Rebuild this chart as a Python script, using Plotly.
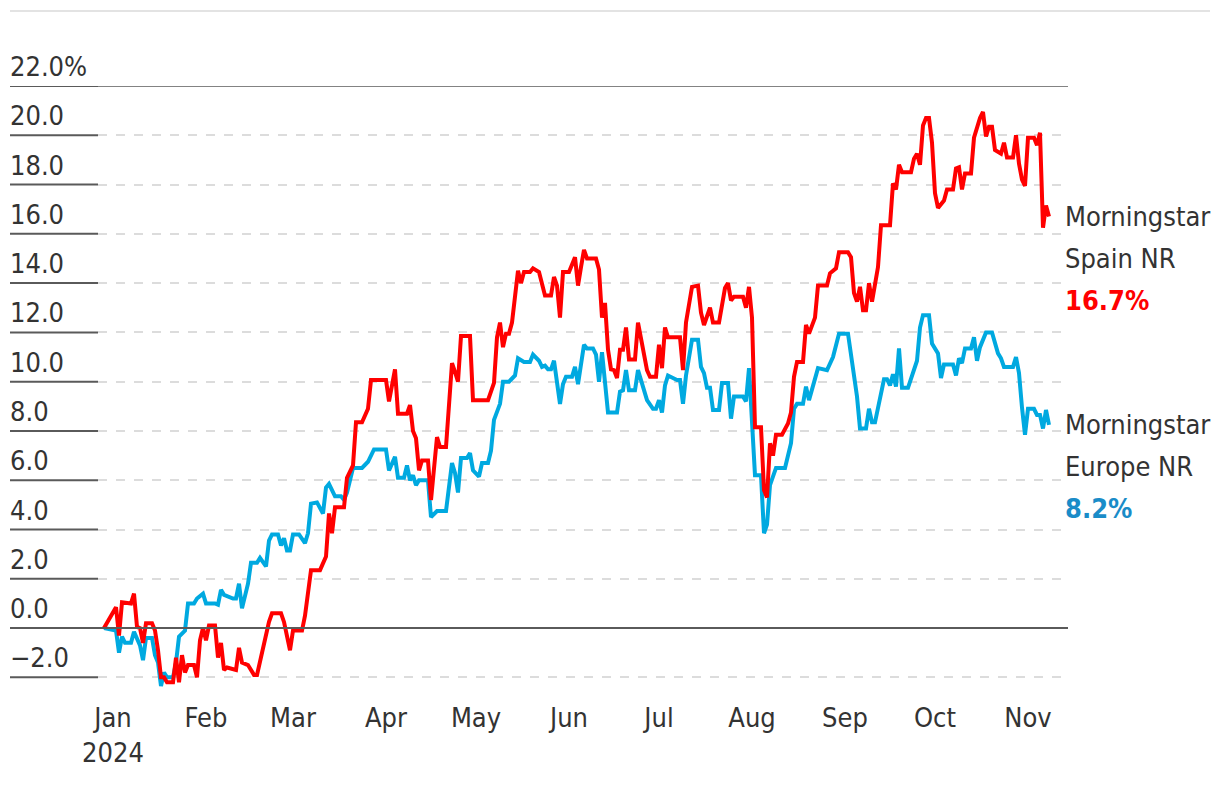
import plotly.graph_objects as go

FONT = "DejaVu Sans Condensed, Liberation Sans Narrow, Roboto, sans-serif"
TEXT = "#333333"
RED = "#ff0000"
BLUE = "#00a9e0"

spain_dates = [
    "2023-12-29", "2024-01-02", "2024-01-03", "2024-01-04", "2024-01-07", "2024-01-08", "2024-01-09", "2024-01-10",
    "2024-01-11", "2024-01-12", "2024-01-14", "2024-01-15", "2024-01-16", "2024-01-17", "2024-01-18", "2024-01-19",
    "2024-01-21", "2024-01-22", "2024-01-23", "2024-01-24", "2024-01-25", "2024-01-26", "2024-01-28", "2024-01-29",
    "2024-01-30", "2024-01-31", "2024-02-01", "2024-02-02", "2024-02-04", "2024-02-05", "2024-02-06", "2024-02-07",
    "2024-02-08", "2024-02-11", "2024-02-12", "2024-02-13", "2024-02-15", "2024-02-17", "2024-02-18", "2024-02-20",
    "2024-02-22", "2024-02-23", "2024-02-26", "2024-02-27", "2024-02-29", "2024-03-01", "2024-03-04", "2024-03-05",
    "2024-03-07", "2024-03-10", "2024-03-12", "2024-03-13", "2024-03-14", "2024-03-15", "2024-03-18", "2024-03-19",
    "2024-03-21", "2024-03-22", "2024-03-24", "2024-03-26", "2024-03-27", "2024-04-01", "2024-04-02", "2024-04-04",
    "2024-04-05", "2024-04-08", "2024-04-09", "2024-04-10", "2024-04-11", "2024-04-12", "2024-04-13", "2024-04-15",
    "2024-04-16", "2024-04-18", "2024-04-19", "2024-04-21", "2024-04-23", "2024-04-24", "2024-04-25", "2024-04-26",
    "2024-04-29", "2024-04-30", "2024-05-05", "2024-05-07", "2024-05-08", "2024-05-09", "2024-05-10", "2024-05-11",
    "2024-05-12", "2024-05-13", "2024-05-15", "2024-05-16", "2024-05-17", "2024-05-19", "2024-05-20", "2024-05-22",
    "2024-05-23", "2024-05-24", "2024-05-26", "2024-05-27", "2024-05-28", "2024-05-29", "2024-05-30", "2024-06-01",
    "2024-06-03", "2024-06-04", "2024-06-05", "2024-06-06", "2024-06-07", "2024-06-10", "2024-06-11", "2024-06-12",
    "2024-06-13", "2024-06-14", "2024-06-15", "2024-06-16", "2024-06-17", "2024-06-18", "2024-06-19", "2024-06-20",
    "2024-06-21", "2024-06-23", "2024-06-24", "2024-06-25", "2024-06-27", "2024-06-28", "2024-06-30", "2024-07-01",
    "2024-07-02", "2024-07-03", "2024-07-04", "2024-07-08", "2024-07-09", "2024-07-10", "2024-07-12", "2024-07-14",
    "2024-07-15", "2024-07-16", "2024-07-18", "2024-07-19", "2024-07-21", "2024-07-23", "2024-07-24", "2024-07-25",
    "2024-07-26", "2024-07-29", "2024-07-30", "2024-07-31", "2024-08-01", "2024-08-02", "2024-08-04", "2024-08-05",
    "2024-08-06", "2024-08-07", "2024-08-08", "2024-08-09", "2024-08-11", "2024-08-13", "2024-08-14", "2024-08-15",
    "2024-08-16", "2024-08-18", "2024-08-19", "2024-08-20", "2024-08-22", "2024-08-23", "2024-08-26", "2024-08-27",
    "2024-08-29", "2024-08-30", "2024-09-02", "2024-09-03", "2024-09-04", "2024-09-05", "2024-09-06", "2024-09-07",
    "2024-09-08", "2024-09-09", "2024-09-10", "2024-09-12", "2024-09-13", "2024-09-16", "2024-09-17", "2024-09-18",
    "2024-09-19", "2024-09-20", "2024-09-23", "2024-09-24", "2024-09-25", "2024-09-26", "2024-09-27", "2024-09-28",
    "2024-09-29", "2024-09-30", "2024-10-01", "2024-10-02", "2024-10-04", "2024-10-05", "2024-10-07", "2024-10-08",
    "2024-10-09", "2024-10-10", "2024-10-11", "2024-10-13", "2024-10-14", "2024-10-16", "2024-10-17", "2024-10-18",
    "2024-10-19", "2024-10-20", "2024-10-21", "2024-10-23", "2024-10-24", "2024-10-25", "2024-10-27", "2024-10-28",
    "2024-10-29", "2024-10-30", "2024-10-31", "2024-11-01", "2024-11-03", "2024-11-04", "2024-11-05", "2024-11-06",
    "2024-11-07", "2024-11-08",
]
spain_values = [
    0.0, 0.85, -0.3, 1.05, 1.0, 1.4, 0.05, 0.0,
    -0.6, 0.2, 0.2, -0.1, -0.9, -2.0, -2.0, -2.2,
    -2.2, -1.2, -2.2, -1.1, -1.8, -1.5, -1.5, -2.0,
    -0.5, 0.0, -0.5, 0.1, 0.1, -1.2, -0.6, -1.7,
    -1.6, -1.7, -0.8, -1.4, -1.5, -1.9, -1.9, -0.8,
    0.25, 0.6, 0.6, 0.25, -0.9, -0.1, -0.1, 0.5,
    2.35, 2.35, 2.9, 4.65, 3.85, 4.9, 4.9, 6.1,
    6.6, 8.35, 8.35, 8.9, 10.07, 10.07, 9.2, 10.5,
    8.7, 8.7, 9.05, 8.0, 7.7, 6.4, 6.8, 6.8,
    5.2, 7.75, 7.35, 7.35, 10.75, 10.4, 10.0, 11.85,
    11.85, 9.25, 9.25, 9.95, 11.8, 12.4, 11.4, 11.95,
    11.95, 12.4, 14.5, 14.0, 14.45, 14.45, 14.6, 14.45,
    14.0, 13.5, 13.5, 14.25, 13.9, 12.6, 14.45, 14.45,
    15.05, 13.9, 14.65, 15.35, 15.0, 15.0, 14.55, 12.6,
    13.2, 11.3, 10.5, 10.47, 10.15, 11.3, 11.3, 12.2,
    10.9, 10.9, 12.4, 11.8, 10.47, 10.2, 10.2, 11.5,
    10.55, 12.2, 11.8, 11.8, 10.47, 12.4, 13.85, 13.9,
    12.8, 12.3, 13.0, 12.4, 12.4, 13.8, 14.0, 13.3,
    13.45, 13.45, 13.0, 13.85, 12.6, 8.15, 8.15, 5.6,
    5.3, 7.5, 7.0, 7.85, 7.85, 8.3, 8.75, 10.2,
    10.8, 10.8, 12.3, 11.95, 12.6, 13.9, 13.9, 14.4,
    14.6, 15.25, 15.25, 15.05, 13.6, 13.25, 13.85, 12.9,
    12.9, 14.0, 13.25, 14.65, 16.35, 16.35, 18.05, 17.8,
    18.8, 18.5, 18.5, 19.05, 19.25, 18.8, 20.4, 20.7,
    20.7, 19.7, 17.65, 17.05, 17.35, 17.8, 17.8, 18.65,
    18.7, 17.8, 18.45, 18.45, 19.9, 20.7, 20.95, 19.95,
    20.35, 20.35, 19.4, 19.25, 19.7, 19.1, 19.1, 20.0,
    18.85, 18.2, 17.95, 19.9, 19.9, 19.6, 20.1, 16.25,
    17.15, 16.7,
]

europe_dates = [
    "2023-12-29", "2024-01-02", "2024-01-03", "2024-01-04", "2024-01-05", "2024-01-07", "2024-01-08", "2024-01-09",
    "2024-01-10", "2024-01-11", "2024-01-12", "2024-01-14", "2024-01-15", "2024-01-16", "2024-01-17", "2024-01-18",
    "2024-01-19", "2024-01-21", "2024-01-22", "2024-01-23", "2024-01-25", "2024-01-26", "2024-01-28", "2024-01-29",
    "2024-01-31", "2024-02-01", "2024-02-04", "2024-02-05", "2024-02-06", "2024-02-07", "2024-02-10", "2024-02-11",
    "2024-02-12", "2024-02-13", "2024-02-15", "2024-02-16", "2024-02-18", "2024-02-19", "2024-02-21", "2024-02-22",
    "2024-02-23", "2024-02-25", "2024-02-26", "2024-02-27", "2024-02-28", "2024-02-29", "2024-03-01", "2024-03-03",
    "2024-03-05", "2024-03-06", "2024-03-07", "2024-03-09", "2024-03-11", "2024-03-12", "2024-03-13", "2024-03-14",
    "2024-03-15", "2024-03-17", "2024-03-18", "2024-03-19", "2024-03-21", "2024-03-24", "2024-03-26", "2024-03-28",
    "2024-04-01", "2024-04-02", "2024-04-04", "2024-04-05", "2024-04-07", "2024-04-08", "2024-04-09", "2024-04-10",
    "2024-04-11", "2024-04-12", "2024-04-15", "2024-04-16", "2024-04-18", "2024-04-21", "2024-04-23", "2024-04-24",
    "2024-04-25", "2024-04-26", "2024-04-28", "2024-04-29", "2024-04-30", "2024-05-02", "2024-05-03", "2024-05-05",
    "2024-05-06", "2024-05-07", "2024-05-09", "2024-05-10", "2024-05-12", "2024-05-14", "2024-05-15", "2024-05-17",
    "2024-05-19", "2024-05-20", "2024-05-22", "2024-05-23", "2024-05-24", "2024-05-25", "2024-05-26", "2024-05-27",
    "2024-05-29", "2024-05-30", "2024-05-31", "2024-06-02", "2024-06-03", "2024-06-04", "2024-06-06", "2024-06-07",
    "2024-06-09", "2024-06-10", "2024-06-11", "2024-06-12", "2024-06-13", "2024-06-14", "2024-06-17", "2024-06-18",
    "2024-06-19", "2024-06-20", "2024-06-21", "2024-06-23", "2024-06-24", "2024-06-25", "2024-06-27", "2024-06-29",
    "2024-06-30", "2024-07-01", "2024-07-02", "2024-07-03", "2024-07-04", "2024-07-07", "2024-07-08", "2024-07-09",
    "2024-07-10", "2024-07-12", "2024-07-14", "2024-07-15", "2024-07-16", "2024-07-17", "2024-07-18", "2024-07-19",
    "2024-07-21", "2024-07-22", "2024-07-24", "2024-07-25", "2024-07-26", "2024-07-29", "2024-07-30", "2024-07-31",
    "2024-08-02", "2024-08-04", "2024-08-05", "2024-08-06", "2024-08-07", "2024-08-09", "2024-08-12", "2024-08-14",
    "2024-08-15", "2024-08-16", "2024-08-18", "2024-08-19", "2024-08-20", "2024-08-23", "2024-08-26", "2024-08-28",
    "2024-08-30", "2024-09-02", "2024-09-04", "2024-09-05", "2024-09-06", "2024-09-08", "2024-09-09", "2024-09-10",
    "2024-09-11", "2024-09-14", "2024-09-15", "2024-09-16", "2024-09-17", "2024-09-18", "2024-09-19", "2024-09-20",
    "2024-09-22", "2024-09-24", "2024-09-25", "2024-09-26", "2024-09-27", "2024-09-29", "2024-09-30", "2024-10-02",
    "2024-10-03", "2024-10-04", "2024-10-07", "2024-10-08", "2024-10-09", "2024-10-10", "2024-10-11", "2024-10-13",
    "2024-10-14", "2024-10-15", "2024-10-16", "2024-10-18", "2024-10-20", "2024-10-22", "2024-10-23", "2024-10-24",
    "2024-10-27", "2024-10-28", "2024-10-29", "2024-10-30", "2024-10-31", "2024-11-01", "2024-11-03", "2024-11-04",
    "2024-11-05", "2024-11-06", "2024-11-07", "2024-11-08",
]
europe_values = [
    0.0, -0.1, -1.0, -0.35, -0.6, -0.6, -0.15, -0.4,
    -0.7, -1.3, -0.4, -0.4, -1.1, -1.4, -2.35, -1.8,
    -2.0, -2.0, -1.4, -0.35, -0.1, 1.0, 1.0, 1.2,
    1.4, 1.0, 1.0, 0.95, 1.55, 1.35, 1.2, 1.2,
    1.8, 0.8, 1.8, 2.65, 2.65, 2.85, 2.5, 3.55,
    3.8, 3.8, 3.35, 3.65, 3.15, 3.15, 3.8, 3.8,
    3.45, 3.85, 5.05, 5.1, 4.65, 5.7, 5.85, 5.6,
    5.35, 5.35, 5.2, 5.5, 6.5, 6.5, 6.75, 7.25,
    7.25, 6.4, 6.95, 6.1, 6.1, 6.6, 6.0, 6.2,
    5.8, 6.0, 6.0, 4.5, 4.75, 4.75, 6.7, 6.3,
    5.5, 6.9, 6.9, 7.1, 6.4, 6.15, 6.7, 6.7,
    7.2, 8.45, 9.1, 10.0, 10.0, 10.25, 10.95, 10.8,
    10.8, 11.1, 10.85, 10.6, 10.65, 10.5, 10.5, 10.85,
    9.1, 9.9, 10.2, 10.2, 10.6, 9.9, 11.5, 11.35,
    11.35, 11.1, 10.0, 11.2, 9.8, 8.75, 8.75, 9.6,
    9.65, 10.47, 9.65, 9.65, 10.47, 10.07, 9.25, 8.9,
    8.9, 9.25, 8.75, 9.85, 10.25, 10.07, 10.07, 9.1,
    10.25, 11.7, 11.7, 10.6, 10.35, 9.75, 9.75, 8.85,
    8.85, 9.95, 9.95, 8.5, 9.4, 9.4, 9.2, 10.55,
    6.2, 6.2, 3.85, 4.2, 5.8, 6.5, 6.5, 7.5,
    8.9, 9.1, 9.1, 9.8, 9.25, 10.55, 10.47, 11.0,
    11.95, 11.95, 10.25, 9.4, 8.1, 8.1, 8.9, 8.35,
    8.35, 10.1, 10.1, 9.85, 10.3, 9.8, 11.35, 9.75,
    9.75, 10.47, 10.85, 12.2, 12.7, 12.7, 11.55, 11.15,
    10.15, 10.7, 10.7, 10.25, 10.95, 10.75, 11.35, 11.35,
    11.8, 10.85, 11.4, 12.0, 12.0, 11.15, 10.95, 10.6,
    10.6, 11.0, 10.35, 8.95, 7.85, 8.9, 8.9, 8.65,
    8.65, 8.1, 8.85, 8.25,
]

series_names = ["Morningstar<br>Spain NR", "Morningstar<br>Europe NR"]
final_labels = ["16.7%", "8.2%"]

y_ticks = [-2, 0, 2, 4, 6, 8, 10, 12, 14, 16, 18, 20, 22]
y_tick_text = ["\u22122.0", "0.0", "2.0", "4.0", "6.0", "8.0", "10.0", "12.0", "14.0",
               "16.0", "18.0", "20.0", "22.0%"]
month_ticks = ["2024-01-01", "2024-02-01", "2024-03-01", "2024-04-01", "2024-05-01", "2024-06-01",
               "2024-07-01", "2024-08-01", "2024-09-01", "2024-10-01", "2024-11-01"]
month_text = ["Jan<br>2024", "Feb", "Mar", "Apr", "May", "Jun", "Jul", "Aug", "Sep", "Oct", "Nov"]

W, H = 1220, 786
L, R, T, B = 98, 152, 86, 84
PW = W - L - R
PH = H - T - B
LEFT_PAPER = (10 - L) / PW
FS = 27

fig = go.Figure()
fig.add_trace(go.Scatter(x=europe_dates, y=europe_values, mode="lines",
                         line=dict(color=BLUE, width=4), showlegend=False, hoverinfo="skip"))
fig.add_trace(go.Scatter(x=spain_dates, y=spain_values, mode="lines",
                         line=dict(color=RED, width=4), showlegend=False, hoverinfo="skip"))

shapes = []
shapes.append(dict(type="line", xref="paper", yref="paper", x0=LEFT_PAPER, x1=(1210 - L) / PW,
                   y0=(H - B - 11) / PH, y1=(H - B - 11) / PH, line=dict(color="#e3e3e3", width=2)))
shapes.append(dict(type="line", xref="paper", yref="y", x0=0, x1=1, y0=22, y1=22,
                   line=dict(color="#5a5a5a", width=1.5)))
shapes.append(dict(type="line", xref="paper", yref="y", x0=0, x1=1, y0=0, y1=0,
                   line=dict(color="#5a5a5a", width=2)))
for v in y_ticks:
    shapes.append(dict(type="line", xref="paper", yref="y", x0=LEFT_PAPER, x1=0, y0=v, y1=v,
                       line=dict(color="#5a5a5a", width=2)))

annotations = []
for v, t in zip(y_ticks, y_tick_text):
    annotations.append(dict(x=LEFT_PAPER, xref="paper", y=v, yref="y", text=t, showarrow=False,
                            xanchor="left", yanchor="bottom", yshift=2, xshift=-2,
                            font=dict(family=FONT, size=FS, color=TEXT)))

label_colors = [RED, "#1a8cc8"]
for dates, vals, name, fl, col in [(spain_dates, spain_values, series_names[0], final_labels[0], label_colors[0]),
                                   (europe_dates, europe_values, series_names[1], final_labels[1], label_colors[1])]:
    lines = name.split("<br>")
    for i, ln in enumerate(lines):
        annotations.append(dict(x=dates[-1], y=vals[-1], xref="x", yref="y", text=ln, showarrow=False,
                                xanchor="left", yanchor="middle", xshift=14, yshift=-42 * i,
                                font=dict(family=FONT, size=FS, color=TEXT)))
    annotations.append(dict(x=dates[-1], y=vals[-1], xref="x", yref="y", text="<b>" + fl + "</b>",
                            showarrow=False, xanchor="left", yanchor="middle", xshift=14, yshift=-84,
                            font=dict(family=FONT, size=FS, color=col)))

fig.update_layout(
    width=W, height=H,
    margin=dict(l=L, r=R, t=T, b=B),
    paper_bgcolor="white", plot_bgcolor="white",
    shapes=shapes, annotations=annotations,
    xaxis=dict(type="date", range=["2023-12-27", "2024-11-14 08:00"], tickvals=month_ticks,
               ticktext=month_text, showgrid=False, zeroline=False, showline=False, ticks="",
               tickfont=dict(family=FONT, size=FS, color=TEXT), ticklabelstandoff=-3),
    yaxis=dict(range=[-3, 22], tickvals=y_ticks, showticklabels=False, showgrid=True,
               gridcolor="#dcdcdc", gridwidth=1.5, griddash="dash", zeroline=False, showline=False,
               ticks=""),
)

fig.write_html("out.html", config={"displayModeBar": False},
               post_script="document.body.style.margin='0';document.body.style.overflow='hidden';")
